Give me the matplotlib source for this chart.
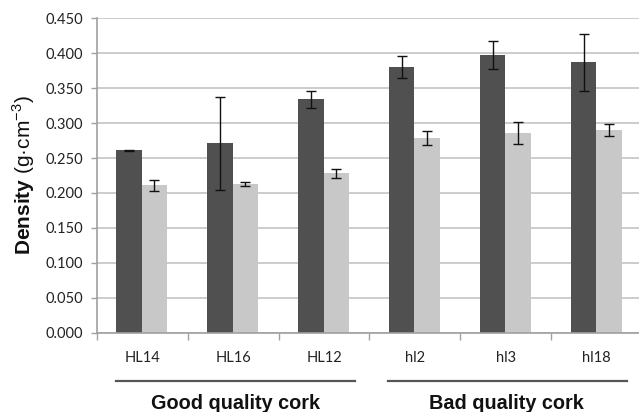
import matplotlib
matplotlib.use("Agg")
import matplotlib.pyplot as plt
import matplotlib.transforms as mtransforms
import numpy as np

# Cork samples and measured densities (g/cm^3)
samples = ["HL14", "HL16", "HL12", "hl2", "hl3", "hl18"]
dark_mean = [0.261, 0.271, 0.334, 0.380, 0.398, 0.387]
dark_err = [0.001, 0.067, 0.012, 0.016, 0.020, 0.041]
light_mean = [0.211, 0.213, 0.228, 0.279, 0.286, 0.290]
light_err = [0.008, 0.003, 0.007, 0.010, 0.016, 0.009]
groups = ["Good quality cork", "Bad quality cork"]
yticks = [0.0, 0.05, 0.10, 0.15, 0.20, 0.25, 0.30, 0.35, 0.40, 0.45]

plt.rcParams["mathtext.fontset"] = "custom"
plt.rcParams["mathtext.rm"] = "Liberation Sans"
plt.rcParams["mathtext.bf"] = "Liberation Sans:bold"

fig = plt.figure(figsize=(6.39, 4.12), dpi=100)
ax = fig.add_axes([0.1513, 0.1925, 0.8538, 0.7631])

x = np.arange(len(samples))
w = 0.28
ax.bar(x - 0.145, dark_mean, width=w, color="#505050", zorder=2)
ax.bar(x + 0.135, light_mean, width=w, color="#c8c8c8", zorder=2)
ek = dict(fmt="none", ecolor="#111111", elinewidth=1.0, capsize=3.6, capthick=1.0, zorder=3)
ax.errorbar(x - 0.145, dark_mean, yerr=dark_err, **ek)
ax.errorbar(x + 0.135, light_mean, yerr=light_err, **ek)

ax.set_xlim(-0.5, len(samples) - 0.5)
ax.set_ylim(0, 0.45)
ax.set_yticks(yticks)
ax.set_yticklabels([f"{v:.3f}" for v in yticks], fontfamily="Lato", fontsize=10.5, color="#222222")
ax.yaxis.grid(True, color="#c4c4c4", linewidth=1.2, zorder=0)
ax.set_axisbelow(True)
ax.tick_params(axis="y", length=4, width=1, color="#a0a0a0", pad=6)

ax.set_xticks(x)
ax.set_xticklabels(samples, fontfamily="Lato", fontsize=10.5, color="#222222")
ax.set_xticks(np.arange(-0.5, len(samples)), minor=True)
ax.tick_params(axis="x", which="major", length=0, pad=13)
ax.tick_params(axis="x", which="minor", length=5, width=1, color="#a0a0a0")

for s in ["top", "right"]:
    ax.spines[s].set_visible(False)
for s in ["left", "bottom"]:
    ax.spines[s].set_color("#a0a0a0")
    ax.spines[s].set_linewidth(1.2)

# Group brackets under the category labels
trans = mtransforms.blended_transform_factory(ax.transData, ax.transAxes)
spans = [(-0.291, 2.342), (2.701, 5.337)]
centers = [1.03, 4.01]
for (a, b), c, name in zip(spans, centers, groups):
    ax.plot([a, b], [-0.1537, -0.1537], color="#555555", lw=1.6,
            transform=trans, clip_on=False)
    ax.text(c, -0.225, name, transform=trans, ha="center", va="center",
            fontfamily="Liberation Sans", fontweight="bold", fontsize=14.3,
            color="#111111")

fig.text(24 / 639, 1 - 175 / 412, r"$\mathbf{Density}$ (g·cm$^{-3}$)",
         rotation=90, ha="center", va="center",
         fontfamily="Liberation Sans", fontsize=15, color="#111111")

fig.savefig("out.png", dpi=100)
